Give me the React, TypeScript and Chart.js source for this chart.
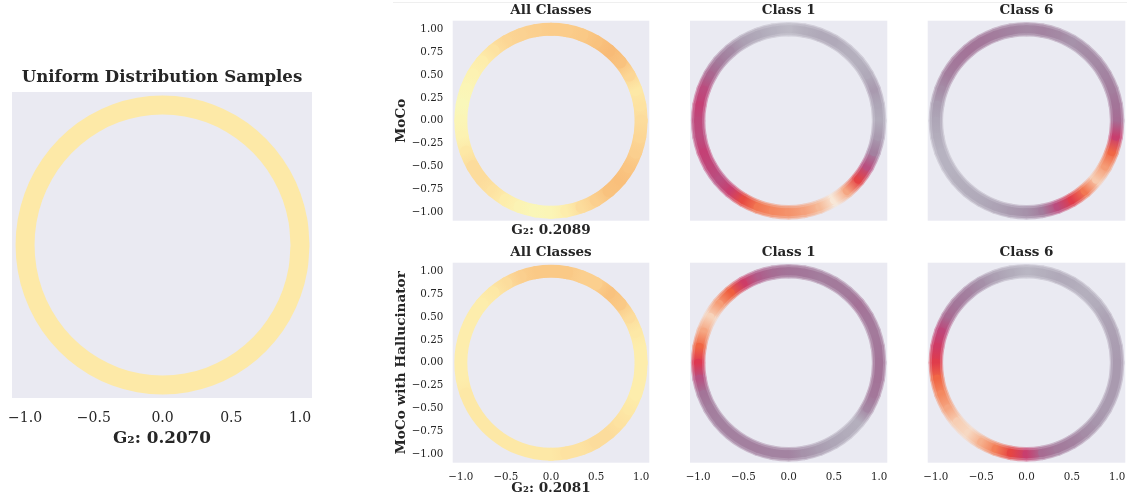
import React, { useEffect, useRef } from "react";
import { Chart, registerables } from "chart.js";

Chart.register(...registerables);

// ---------------- DATA ----------------
// angle (degrees, counter-clockwise from +x) of each sample bin on the unit circle
const ANGLES_DEG = [
  0, 10, 20, 30, 40, 50, 60, 70, 80, 90, 100, 110, 120, 130, 140, 150, 160, 170,
  180, 190, 200, 210, 220, 230, 240, 250, 260, 270, 280, 290, 300, 310, 320, 330, 340, 350,
];

// density level read at each angle (colour-map position)
const UNIFORM_DENSITY = [
  0.962, 0.962, 0.962, 0.962, 0.962, 0.962, 0.962, 0.962, 0.962, 0.962, 0.962, 0.962,
  0.962, 0.962, 0.962, 0.962, 0.962, 0.962, 0.962, 0.962, 0.962, 0.962, 0.962, 0.962,
  0.962, 0.962, 0.962, 0.962, 0.962, 0.962, 0.962, 0.962, 0.962, 0.962, 0.962, 0.962,
];
const MOCO_ALL = [
  0.94, 0.95, 0.96, 0.93, 0.9, 0.89, 0.9, 0.91, 0.915, 0.915, 0.92, 0.925,
  0.93, 0.95, 0.97, 0.98, 0.99, 1.0, 0.99, 0.98, 0.96, 0.94, 0.94, 0.95,
  0.97, 0.985, 0.995, 0.99, 0.97, 0.94, 0.92, 0.9, 0.895, 0.905, 0.92, 0.93,
];
const MOCO_CLASS1 = [
  0.11, 0.13, 0.17, 0.12, 0.1, 0.1, 0.12, 0.12, 0.1, 0.07, 0.09, 0.12,
  0.15, 0.23, 0.28, 0.36, 0.46, 0.5, 0.47, 0.46, 0.5, 0.48, 0.45, 0.52,
  0.66, 0.76, 0.8, 0.82, 0.85, 0.9, 0.99, 0.86, 0.64, 0.45, 0.26, 0.17,
];
const MOCO_CLASS6 = [
  0.33, 0.3, 0.27, 0.25, 0.23, 0.22, 0.2, 0.23, 0.25, 0.23, 0.25, 0.27,
  0.29, 0.3, 0.29, 0.27, 0.22, 0.16, 0.13, 0.11, 0.09, 0.09, 0.1, 0.11,
  0.12, 0.14, 0.17, 0.2, 0.27, 0.46, 0.62, 0.76, 0.93, 0.84, 0.72, 0.52,
];
const HALL_ALL = [
  0.97, 0.97, 0.96, 0.94, 0.91, 0.9, 0.92, 0.92, 0.91, 0.91, 0.91, 0.92,
  0.94, 0.96, 0.97, 0.97, 0.97, 0.97, 0.97, 0.97, 0.96, 0.96, 0.96, 0.96,
  0.96, 0.96, 0.96, 0.96, 0.95, 0.95, 0.94, 0.94, 0.95, 0.96, 0.97, 0.97,
];
const HALL_CLASS1 = [
  0.3, 0.29, 0.28, 0.29, 0.31, 0.28, 0.28, 0.27, 0.29, 0.3, 0.33, 0.4,
  0.54, 0.7, 0.84, 0.95, 0.86, 0.72, 0.6, 0.44, 0.3, 0.27, 0.26, 0.26,
  0.26, 0.26, 0.25, 0.25, 0.2, 0.16, 0.13, 0.11, 0.1, 0.24, 0.29, 0.3,
];
const HALL_CLASS6 = [
  0.17, 0.16, 0.15, 0.14, 0.11, 0.1, 0.11, 0.12, 0.1, 0.08, 0.11, 0.15,
  0.21, 0.26, 0.29, 0.34, 0.48, 0.55, 0.62, 0.72, 0.8, 0.86, 0.94, 0.96,
  0.88, 0.78, 0.65, 0.52, 0.34, 0.28, 0.26, 0.22, 0.19, 0.17, 0.17, 0.17,
];

const X_TICKS = [-1, -0.5, 0, 0.5, 1];
const X_TICK_LABELS = ["\u22121.0", "\u22120.5", "0.0", "0.5", "1.0"];
const Y_TICKS = [-1, -0.75, -0.5, -0.25, 0, 0.25, 0.5, 0.75, 1];
const Y_TICK_LABELS = ["\u22121.00", "\u22120.75", "\u22120.50", "\u22120.25", "0.00", "0.25", "0.50", "0.75", "1.00"];

const TITLES = ["Uniform Distribution Samples", "All Classes", "Class 1", "Class 6"];
const ROW_LABELS = ["MoCo", "MoCo with Hallucinator"];
const G2_LABELS = ["G\u2082: 0.2070", "G\u2082: 0.2089", "G\u2082: 0.2081"];

// ---------------- STYLE ----------------
const W = 1127;
const H = 498;
const FONT = "'DejaVu Serif', serif";
const TEXT = "#262626";
const BG: [number, number, number] = [234, 234, 242];

type RGB = [number, number, number];
const WARM_STOPS: Array<[number, RGB]> = [
  [0.88, [247, 180, 112]],
  [0.9, [249, 194, 126]],
  [0.92, [251, 207, 142]],
  [0.94, [252, 220, 156]],
  [0.96, [253, 232, 166]],
  [0.98, [252, 242, 178]],
  [1.0, [249, 247, 186]],
];
const ROCKET_STOPS: Array<[number, RGB]> = [
  [0.0, [3, 5, 26]],
  [0.1, [40, 23, 53]],
  [0.2, [76, 29, 75]],
  [0.3, [112, 31, 87]],
  [0.4, [150, 28, 91]],
  [0.5, [186, 22, 86]],
  [0.6, [220, 43, 70]],
  [0.7, [239, 94, 62]],
  [0.8, [244, 136, 96]],
  [0.9, [246, 186, 152]],
  [1.0, [248, 236, 222]],
];
const ALPHA_STOPS: Array<[number, number]> = [
  [0, 0.1],
  [0.1, 0.28],
  [0.3, 0.58],
  [0.5, 0.8],
  [0.65, 1],
];
// soft ring edges for the per-class panels: [width offset, opacity]
const ROCKET_LAYERS: Array<[number, number]> = [
  [1.5, 0.45],
  [-1, 0.8],
  [-5, 1],
];

function sample(stops: Array<[number, RGB]>, t: number): RGB {
  if (t <= stops[0][0]) return stops[0][1];
  for (let i = 1; i < stops.length; i++) {
    if (t <= stops[i][0]) {
      const [t0, c0] = stops[i - 1];
      const [t1, c1] = stops[i];
      const f = (t - t0) / (t1 - t0);
      return [0, 1, 2].map((k) => c0[k] + (c1[k] - c0[k]) * f) as RGB;
    }
  }
  return stops[stops.length - 1][1];
}
function sampleAlpha(t: number): number {
  if (t <= ALPHA_STOPS[0][0]) return ALPHA_STOPS[0][1];
  for (let i = 1; i < ALPHA_STOPS.length; i++) {
    if (t <= ALPHA_STOPS[i][0]) {
      const [t0, a0] = ALPHA_STOPS[i - 1];
      const [t1, a1] = ALPHA_STOPS[i];
      return a0 + ((a1 - a0) * (t - t0)) / (t1 - t0);
    }
  }
  return 1;
}

function colorFor(cmap: "warm" | "rocket", v: number, soft = 1): string {
  let c: RGB;
  let a = 1;
  if (cmap === "warm") {
    c = sample(WARM_STOPS, v);
  } else {
    c = sample(ROCKET_STOPS, v);
    a = sampleAlpha(v);
  }
  a *= soft;
  const m = [0, 1, 2].map((k) => Math.round(a * c[k] + (1 - a) * BG[k]));
  return `rgb(${m.join(",")})`;
}

type PanelCfg = {
  values: number[];
  cmap: "warm" | "rocket";
  area: [number, number, number, number];
  xRange: [number, number];
  yRange: [number, number];
  band: number;
  title: string;
  titleY: number;
  titleSize: number;
  xTicks?: boolean;
  xTickY?: number;
  yTicks?: boolean;
  yTickPad?: number;
  tickSize: number;
  xlabel?: string;
  xlabelY?: number;
  ylabel?: string;
  ylabelX?: number;
  labelSize: number;
};

const GRID_X: [number, number] = [-1.09, 1.09];
const GRID_Y: [number, number] = [-1.092, 1.094];

const PANELS: PanelCfg[] = [
  {
    values: UNIFORM_DENSITY, cmap: "warm", area: [12, 92, 312, 398],
    xRange: [-1.095, 1.087], yRange: [-1.093, 1.093], band: 19,
    title: TITLES[0], titleY: 77.5, titleSize: 16.6,
    xTicks: true, xTickY: 418.5, tickSize: 14,
    xlabel: G2_LABELS[0], xlabelY: 438.8, labelSize: 16.8,
  },
  {
    values: MOCO_ALL, cmap: "warm", area: [452.7, 20.7, 649.3, 220.7],
    xRange: GRID_X, yRange: GRID_Y, band: 13,
    title: TITLES[1], titleY: 10, titleSize: 13.5,
    yTicks: true, yTickPad: 9.4, tickSize: 10.3,
    xlabel: G2_LABELS[1], xlabelY: 230, ylabel: ROW_LABELS[0], ylabelX: 401.7, labelSize: 13.6,
  },
  {
    values: MOCO_CLASS1, cmap: "rocket", area: [690, 20.7, 887.3, 220.7],
    xRange: GRID_X, yRange: GRID_Y, band: 13,
    title: TITLES[2], titleY: 10, titleSize: 13.5, tickSize: 10.3, labelSize: 13.6,
  },
  {
    values: MOCO_CLASS6, cmap: "rocket", area: [927.7, 20.7, 1125.3, 220.7],
    xRange: GRID_X, yRange: GRID_Y, band: 13,
    title: TITLES[3], titleY: 10, titleSize: 13.5, tickSize: 10.3, labelSize: 13.6,
  },
  {
    values: HALL_ALL, cmap: "warm", area: [452.7, 262.7, 649.3, 462.7],
    xRange: GRID_X, yRange: GRID_Y, band: 13,
    title: TITLES[1], titleY: 252, titleSize: 13.5,
    xTicks: true, xTickY: 477.3, yTicks: true, yTickPad: 9.4, tickSize: 10.3,
    xlabel: G2_LABELS[2], xlabelY: 488.2, ylabel: ROW_LABELS[1], ylabelX: 401.7, labelSize: 13.6,
  },
  {
    values: HALL_CLASS1, cmap: "rocket", area: [690, 262.7, 887.3, 462.7],
    xRange: GRID_X, yRange: GRID_Y, band: 13,
    title: TITLES[2], titleY: 252, titleSize: 13.5,
    xTicks: true, xTickY: 477.3, tickSize: 10.3, labelSize: 13.6,
  },
  {
    values: HALL_CLASS6, cmap: "rocket", area: [927.7, 262.7, 1125.3, 462.7],
    xRange: GRID_X, yRange: GRID_Y, band: 13,
    title: TITLES[3], titleY: 252, titleSize: 13.5,
    xTicks: true, xTickY: 477.3, tickSize: 10.3, labelSize: 13.6,
  },
];

const plotBg = {
  id: "plotBg",
  beforeDraw(chart: any) {
    const { ctx, chartArea } = chart;
    if (!chartArea) return;
    ctx.save();
    ctx.fillStyle = "#eaeaf2";
    ctx.fillRect(chartArea.left, chartArea.top, chartArea.right - chartArea.left, chartArea.bottom - chartArea.top);
    ctx.restore();
  },
};

function ringDataset(p: PanelCfg, width: number, soft: number, order: number) {
  const pts = ANGLES_DEG.map((a) => ({
    x: Math.cos((a * Math.PI) / 180),
    y: Math.sin((a * Math.PI) / 180),
  }));
  pts.push({ ...pts[0] });
  const n = p.values.length;
  return {
    data: pts,
    order,
    showLine: true,
    pointRadius: 0,
    borderWidth: width,
    borderCapStyle: "round",
    borderJoinStyle: "round",
    borderColor: colorFor(p.cmap, p.values[0], soft),
    tension: 0.38,
    clip: false,
    segment: {
      borderColor: (sc: any) => {
        const c0 = colorFor(p.cmap, p.values[sc.p0DataIndex % n], soft);
        const c1 = colorFor(p.cmap, p.values[sc.p1DataIndex % n], soft);
        if (c0 === c1) return c0;
        const g = sc.chart.ctx.createLinearGradient(sc.p0.x, sc.p0.y, sc.p1.x, sc.p1.y);
        g.addColorStop(0, c0);
        g.addColorStop(1, c1);
        return g;
      },
    },
  } as any;
}

function Panel({ p }: { p: PanelCfg }) {
  const ref = useRef<HTMLCanvasElement | null>(null);
  useEffect(() => {
    const canvas = ref.current;
    if (!canvas) return;
    const [L, T, R, B] = p.area;
    const tLH = p.titleSize * 1.2;
    const tPB = Math.max(0, T - p.titleY - tLH / 2);
    const titleH = tLH + tPB;
    const showX = !!(p.xTicks || p.xlabel);
    let XH = 0;
    if (p.xlabel) XH = (p.xlabelY as number) - B + (p.labelSize * 1.2) / 2;
    else if (p.xTicks) XH = (p.xTickY as number) - B + (p.tickSize * 1.2) / 2 + 1;
    const xTickPad = p.xTicks ? (p.xTickY as number) - B - (p.tickSize * 1.2) / 2 : 0;
    const showY = !!(p.yTicks || p.ylabel);
    const YW = p.ylabel ? L - (p.ylabelX as number) + (p.labelSize * 1.2) / 2 : 0;

    // lower "order" is drawn on top
    const datasets =
      p.cmap === "rocket"
        ? ROCKET_LAYERS.map(([dw, op], i) => ringDataset(p, p.band + dw, op, ROCKET_LAYERS.length - i))
        : [ringDataset(p, p.band, 1, 1)];

    const chart = new Chart(canvas, {
      type: "scatter",
      data: { datasets },
      options: {
        responsive: false,
        animation: false,
        events: [],
        layout: {
          padding: { left: L - YW, top: T - titleH, right: W - R, bottom: H - B - XH },
        },
        plugins: {
          legend: { display: false },
          tooltip: { enabled: false },
          title: {
            display: true,
            text: p.title,
            fullSize: false,
            color: TEXT,
            font: { family: FONT, size: p.titleSize, weight: "bold", lineHeight: 1.2 },
            padding: { top: 0, bottom: tPB },
          },
        },
        scales: {
          x: {
            type: "linear",
            min: p.xRange[0],
            max: p.xRange[1],
            display: showX,
            grid: { display: false, drawTicks: false },
            border: { display: false },
            afterBuildTicks: (s: any) => {
              s.ticks = X_TICKS.map((v) => ({ value: v }));
            },
            afterFit: showX
              ? (s: any) => {
                  s.height = XH;
                  s.paddingLeft = 0;
                  s.paddingRight = 0;
                }
              : undefined,
            ticks: {
              display: !!p.xTicks,
              padding: xTickPad,
              color: TEXT,
              font: { family: FONT, size: p.tickSize, lineHeight: 1.2 },
              maxRotation: 0,
              autoSkip: false,
              callback: (_v: any, i: number) => X_TICK_LABELS[i],
            },
            title: {
              display: !!p.xlabel,
              text: p.xlabel || "",
              color: TEXT,
              font: { family: FONT, size: p.labelSize, weight: "bold", lineHeight: 1.2 },
              padding: { top: 0, bottom: 0 },
            },
          },
          y: {
            type: "linear",
            min: p.yRange[0],
            max: p.yRange[1],
            display: showY,
            grid: { display: false, drawTicks: false },
            border: { display: false },
            afterBuildTicks: (s: any) => {
              s.ticks = Y_TICKS.map((v) => ({ value: v }));
            },
            afterFit: showY
              ? (s: any) => {
                  s.width = YW;
                  s.paddingTop = 0;
                  s.paddingBottom = 0;
                }
              : undefined,
            ticks: {
              display: !!p.yTicks,
              padding: p.yTickPad || 0,
              color: TEXT,
              font: { family: FONT, size: p.tickSize, lineHeight: 1.2 },
              autoSkip: false,
              callback: (_v: any, i: number) => Y_TICK_LABELS[i],
            },
            title: {
              display: !!p.ylabel,
              text: p.ylabel || "",
              color: TEXT,
              font: { family: FONT, size: p.labelSize, weight: "bold", lineHeight: 1.2 },
              padding: { top: 0, bottom: 0 },
            },
          },
        },
      } as any,
      plugins: [plotBg],
    });
    return () => chart.destroy();
  }, [p]);
  return (
    <canvas
      ref={ref}
      width={W}
      height={H}
      style={{ position: "absolute", left: 0, top: 0, width: W, height: H }}
    />
  );
}

export default function App() {
  useEffect(() => {
    document.body.style.margin = "0";
  }, []);
  return (
    <div style={{ position: "absolute", left: 0, top: 0, width: W, height: H, background: "#ffffff", overflow: "hidden" }}>
      <div style={{ position: "absolute", left: 393, top: 2, width: W - 393, height: 1, background: "#efefef" }} />
      {PANELS.map((p, i) => (
        <Panel key={i} p={p} />
      ))}
    </div>
  );
}
